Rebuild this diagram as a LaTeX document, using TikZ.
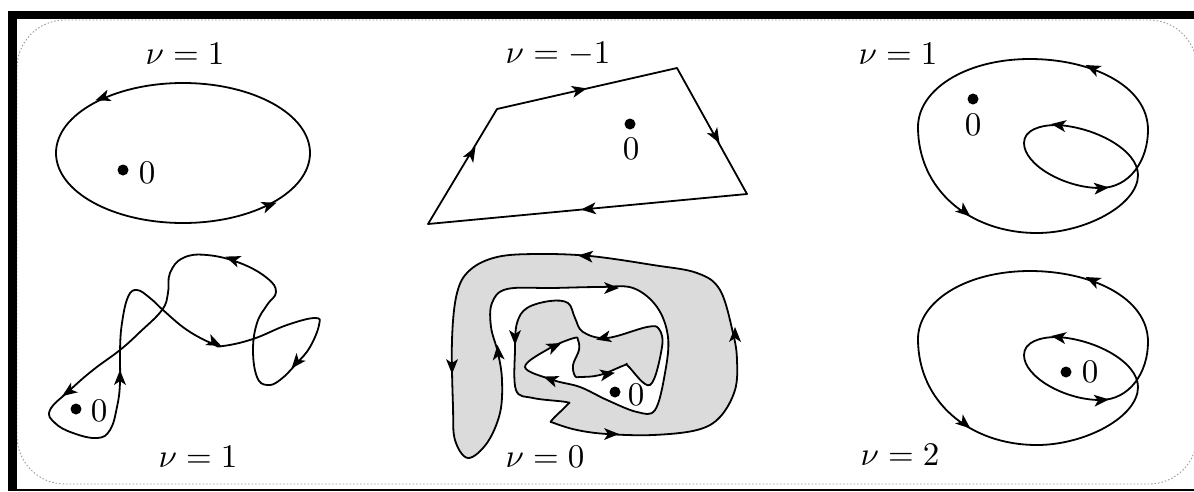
\documentclass[tikz,border=0pt]{standalone}
\usepackage{amsmath,amssymb}
\definecolor{cgris}{gray}{0.86}
\definecolor{cpoint}{gray}{0.6}
\tikzset{
  pointe/.pic={\fill (7,0) -- (-8,6) -- (-4,0) -- (-8,-6) -- cycle;},
  boucle/.pic={
    \draw[courbe] (918,127) .. controls (918,90) and (965,59) .. (1030,59)
      .. controls (1090,59) and (1148,85) .. (1148,130)
      .. controls (1148,160) and (1130,188) .. (1100,188)
      .. controls (1065,188) and (1024,165) .. (1024,143)
      .. controls (1024,130) and (1040,125) .. (1057,125)
      .. controls (1095,127) and (1138,150) .. (1138,175)
      .. controls (1138,205) and (1085,233) .. (1037,233)
      .. controls (970,233) and (918,190) .. cycle;
    \foreach \x/\y/\a in {1092/68/155, 1058/125/172, 1102/188/5, 965/212/-40}
      \pic[rotate=\a] at (\x,\y) {pointe};
  }
}
\begin{document}
\begin{tikzpicture}[x=1pt, y=-1pt,
    courbe/.style={black, line width=1.8pt, line join=round},
    nu/.style={scale=3.3, transform shape, inner sep=0pt},
    zero/.style={scale=3.3, transform shape, inner sep=0pt},
    origine/.style={circle, fill=black, inner sep=0pt, minimum size=11pt}]

  \useasboundingbox (0,0) rectangle (1194,491);

  % cadre
  \draw[cpoint, dash pattern=on 1.5pt off 2pt, line width=0.9pt, rounded corners=48pt]
    (17,20) rectangle (1197,484);
  \fill[black] (8,11) rectangle (1194,19);
  \fill[black] (8,11) rectangle (17,491);
  \fill[black] (8,489) rectangle (1194,491);

  % haut gauche
  \draw[courbe] (183,153) ellipse [x radius=127, y radius=70];
  \foreach \x/\y/\a in {102/98/200, 270/205/20}
    \pic[rotate=\a] at (\x,\y) {pointe};
  \node[origine] (oa) at (123,170) {};
  \node[zero] (za) at (147,173) {0};
  \node[nu] (na) at (185,54) {$\nu = 1$};

  % haut milieu
  \draw[courbe] (428,224) -- (497,109) -- (677,68) -- (747,194) -- cycle;
  \foreach \x/\y/\a in {472/153/60, 580/90/13, 716/137/-60, 588/209/185}
    \pic[rotate=\a] at (\x,\y) {pointe};
  \node[origine] (ob) at (630,124) {};
  \node[zero] (zb) at (631,149) {0};
  \node[nu] (nb) at (558,54) {$\nu = -1$};

  % haut droite
  \pic at (0,0) {boucle};
  \node[origine] (oc) at (973,99) {};
  \node[zero] (zc) at (973,125) {0};
  \node[nu] (nc) at (898,54) {$\nu = 1$};

  % bas gauche
  \draw[courbe] plot[smooth cycle, tension=0.7] coordinates {
    (120,383) (120,350) (122,323) (128,297) (137,290) (150,298) (163,310)
    (187,330) (213,344) (223,346) (253,339) (287,325) (315,318) (319,325)
    (310,347) (297,363) (280,380) (267,385) (257,377) (253,350) (257,323)
    (267,305) (276,292) (267,278) (240,263) (207,255) (183,258) (170,273)
    (168,293) (162,310) (140,332) (120,350) (93,370) (70,390) (50,410)
    (55,423) (73,433) (97,438) (110,430) (117,407)};
  \foreach \x/\y/\a in {120/377/90, 215/343/-25, 296/363/-130, 232/259/160, 68/392/215}
    \pic[rotate=\a] at (\x,\y) {pointe};
  \node[origine] (od) at (76,409) {};
  \node[zero] (zd) at (99,411) {0};
  \node[nu] (nd) at (198,457) {$\nu = 1$};

  % bas milieu
  \draw[courbe, fill=cgris] plot[smooth cycle, tension=0.6] coordinates {
    (525,367) (550,348) (574,338) (578,340) (579,350) (573,365) (575,376) (580,377) (600,375)
    (625,365) (628,366) (650,385) (662,347) (659,329) (647,327) (607,338) (583,332)
    (575,318) (568,303) (550,301) (527,308) (517,323) (515,350) (516,390)
    (533,398) (566,402) (567,405) (552,420) (554,423) (577,430) (607,434) (653,435) (697,430)
    (720,417) (735,390) (737,360) (733,333) (720,290) (697,273) (653,265)
    (590,256) (537,254) (497,257) (470,270) (457,293) (452,340) (453,407)
    (455,440) (468,458) (487,443) (500,413) (502,380) (498,353) (491,327)
    (492,303) (507,289) (553,288) (600,287) (633,288) (657,307) (668,337)
    (665,373) (655,410) (637,412) (607,400) (580,387) (553,380)};
  \foreach \x/\y/\a in {555/346/25, 608/374/10, 603/338/193, 515/338/-90, 612/434/0,
                        735/334/90, 585/256/175, 452/367/-90, 498/352/95, 612/288/0, 550/379/160}
    \pic[rotate=\a] at (\x,\y) {pointe};
  \node[origine] (oe) at (615,392) {};
  \node[zero] (ze) at (636,395) {0};
  \node[nu] (ne) at (545,457) {$\nu = 0$};

  % bas droite
  \pic at (0,212) {boucle};
  \node[origine] (of) at (1066,372) {};
  \node[zero] (zf) at (1090,372) {0};
  \node[nu] (nf) at (900,455) {$\nu = 2$};
\end{tikzpicture}
\end{document}
